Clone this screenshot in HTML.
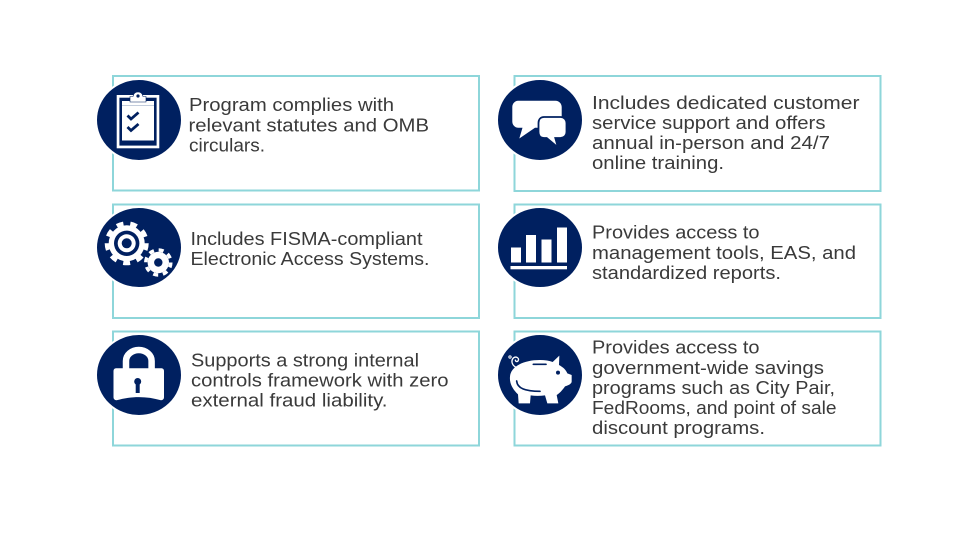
<!DOCTYPE html>
<html><head><meta charset="utf-8"><style>
html,body{margin:0;padding:0;background:#fff}
svg{display:block}
text{font-family:"Liberation Sans",sans-serif;font-size:18.6px;fill:#3a3a3a}
.b{fill:#fff;stroke:#8ed6da;stroke-width:2}
.c{fill:#002060;stroke:#fff;stroke-width:2}
</style></head><body>
<svg width="960" height="540" viewBox="0 0 960 540" xmlns="http://www.w3.org/2000/svg">
<rect class="b" x="113" y="76" width="366" height="114.500"/>
<rect class="b" x="113" y="204.500" width="366" height="113.500"/>
<rect class="b" x="113" y="331.500" width="366" height="114"/>
<rect class="b" x="514.500" y="76" width="366" height="115"/>
<rect class="b" x="514.500" y="204.500" width="366" height="113.500"/>
<rect class="b" x="514.500" y="331.500" width="366" height="114"/>

<ellipse class="c" cx="139" cy="120" rx="43" ry="41"/>
<ellipse class="c" cx="139" cy="247.500" rx="43" ry="40.500"/>
<ellipse class="c" cx="139" cy="375" rx="43" ry="41"/>
<ellipse class="c" cx="540" cy="120" rx="43" ry="41"/>
<ellipse class="c" cx="540" cy="247.500" rx="43" ry="40.500"/>
<ellipse class="c" cx="540" cy="375" rx="43" ry="41"/>

<!-- clipboard -->
<rect x="116.700" y="95" width="42.600" height="53.300" fill="#fff"/>
<rect x="119.400" y="97.700" width="37.200" height="47.900" fill="#002060"/>
<rect x="122" y="101" width="32" height="39.500" fill="#fff"/>
<rect x="122" y="105" width="32" height="1" fill="#c3cddd"/>
<path d="M130 102V96.500H133C133.500 93.500 135.500 92 138 92S142.500 93.500 143 96.500H146V102Z" fill="#fff" stroke="#002060" stroke-width=".6"/>
<circle cx="138" cy="96" r="1.600" fill="#002060"/>
<path d="M127.500 115.500L131 119L138.500 112.500M127.500 127L131 130.500L138.500 124" fill="none" stroke="#002060" stroke-width="2.800"/>

<!-- gears -->
<circle cx="126.700" cy="243.300" r="19.500" fill="none" stroke="#fff" stroke-width="5" stroke-dasharray="6.800 6.813"/>
<circle cx="126.700" cy="243.300" r="18" fill="#fff"/>
<circle cx="126.700" cy="243.300" r="12.700" fill="#002060"/>
<circle cx="126.700" cy="243.300" r="9" fill="#fff"/>
<circle cx="126.700" cy="243.300" r="5" fill="#002060"/>
<circle cx="158.300" cy="262.500" r="12.500" fill="none" stroke="#fff" stroke-width="3.500" stroke-dasharray="5 4.817"/>
<circle cx="158.300" cy="262.500" r="10.700" fill="#fff"/>
<circle cx="158.300" cy="262.500" r="4.200" fill="#002060"/>

<!-- lock -->
<path d="M126 370V361A12.800 11 0 0 1 151.600 361V370" fill="none" stroke="#fff" stroke-width="6.500"/>
<path d="M116.500 368.300H161C163 368.300 164 369.300 164 371.300V397C164 399 163 400 161 400.300C147 396 131 396 116.500 400.300C114.500 400 113.500 399 113.500 397V371.300C113.500 369.300 114.500 368.300 116.500 368.300Z" fill="#fff"/>
<circle cx="137.700" cy="381.500" r="3.500" fill="#002060"/>
<rect x="135.700" y="382" width="4" height="11" fill="#002060"/>

<!-- chat -->
<path d="M518 100.700H555.500C559 100.700 561.700 103.500 561.700 107V121.500C561.700 125 559 127.700 555.500 127.700H535L519.300 138.500L522.500 127.700H518C515 127.700 512.300 125 512.300 121.500V107C512.300 103.500 515 100.700 518 100.700Z" fill="#fff"/>
<path d="M544 117H560.500C564 117 566.500 119.500 566.500 123V132C566.500 135.500 564 138 560.500 138H555.300L558 147.500L546.700 138H544C540.500 138 538.500 135.500 538.500 132V123C538.500 119.500 540.500 117 544 117Z" fill="#fff" stroke="#002060" stroke-width="1.800"/>

<!-- bars -->
<g fill="#fff">
<rect x="511" y="247.500" width="10" height="15"/>
<rect x="526" y="235" width="10" height="27.500"/>
<rect x="541.500" y="239.500" width="10" height="23"/>
<rect x="557" y="227.500" width="10" height="35"/>
<rect x="510.500" y="266" width="56.500" height="3.300"/>
</g>

<!-- pig -->
<g transform="translate(490 325) scale(.33333)">
<path d="M60 155C62 125 100 105 150 105C165 105 178 107 188 111L208 92L207 120C220 127 228 135 232 145L245 150V170C245 176 235 182 225 184C217 196 208 205 200 210L205 235H172L165 211C150 213 135 213 122 211L120 235H86L84 208C68 193 58 175 60 155Z" fill="#fff"/>
<path d="M130 118H168" stroke="#002060" stroke-width="5" fill="none" stroke-linecap="round"/>
<circle cx="204" cy="143" r="6" fill="#002060"/>
<path d="M80 168C82 190 105 199 150 199" stroke="#002060" stroke-width="5" fill="none" stroke-linecap="round"/>
<path d="M80 128C66 122 62 108 70 99C78 92 90 100 84 108C80 112 74 108 77 104" stroke="#fff" stroke-width="4" fill="none"/>
<circle cx="60" cy="96" r="3.500" stroke="#fff" stroke-width="3" fill="none"/>
</g>

<!-- text -->
<text x="189" y="111" textLength="205" lengthAdjust="spacingAndGlyphs">Program complies with</text>
<text x="188.500" y="131.500" textLength="240.500" lengthAdjust="spacingAndGlyphs">relevant statutes and OMB</text>
<text x="189" y="151.500" textLength="76" lengthAdjust="spacingAndGlyphs">circulars.</text>

<text x="190.500" y="245" textLength="232" lengthAdjust="spacingAndGlyphs">Includes FISMA-compliant</text>
<text x="190.500" y="265" textLength="239" lengthAdjust="spacingAndGlyphs">Electronic Access Systems.</text>

<text x="191" y="366.500" textLength="228" lengthAdjust="spacingAndGlyphs">Supports a strong internal</text>
<text x="191" y="386.500" textLength="257.500" lengthAdjust="spacingAndGlyphs">controls framework with zero</text>
<text x="191" y="406.500" textLength="196.500" lengthAdjust="spacingAndGlyphs">external fraud liability.</text>

<text x="592" y="109" textLength="267.500" lengthAdjust="spacingAndGlyphs">Includes dedicated customer</text>
<text x="592" y="129" textLength="233.500" lengthAdjust="spacingAndGlyphs">service support and offers</text>
<text x="592" y="149" textLength="238" lengthAdjust="spacingAndGlyphs">annual in-person and 24/7</text>
<text x="592" y="169" textLength="132" lengthAdjust="spacingAndGlyphs">online training.</text>

<text x="592" y="238.500" textLength="167.500" lengthAdjust="spacingAndGlyphs">Provides access to</text>
<text x="592" y="259" textLength="264" lengthAdjust="spacingAndGlyphs">management tools, EAS, and</text>
<text x="592" y="279" textLength="189" lengthAdjust="spacingAndGlyphs">standardized reports.</text>

<text x="592" y="353.500" textLength="167.500" lengthAdjust="spacingAndGlyphs">Provides access to</text>
<text x="592" y="374" textLength="232" lengthAdjust="spacingAndGlyphs">government-wide savings</text>
<text x="592" y="394" textLength="243" lengthAdjust="spacingAndGlyphs">programs such as City Pair,</text>
<text x="592" y="414" textLength="244.500" lengthAdjust="spacingAndGlyphs">FedRooms, and point of sale</text>
<text x="592" y="434" textLength="173" lengthAdjust="spacingAndGlyphs">discount programs.</text>
</svg>
</body></html>
